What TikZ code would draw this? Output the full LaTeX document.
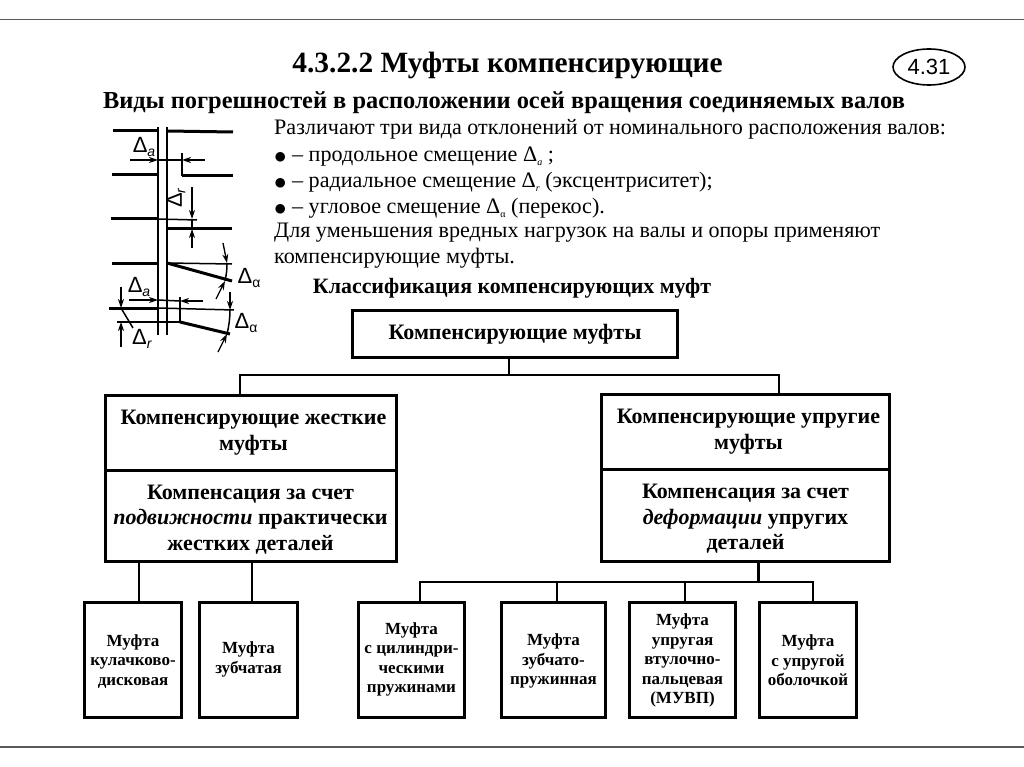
\documentclass[tikz,border=0pt]{standalone}
\usepackage{fontspec}
\setmainfont{Liberation Serif}
\newfontfamily\labelfont{Liberation Sans}
\usetikzlibrary{shapes.geometric,arrows.meta}

\newcommand{\tinysub}[1]{\raisebox{-0.3ex}{\fontsize{10}{10}\selectfont #1}}
\newcommand{\labelsub}[1]{\raisebox{-0.3ex}{\fontsize{14}{14}\selectfont #1}}
\newcommand{\topgap}[1]{\rule{0pt}{#1}}
\newcommand{\bigdot}{\raisebox{-1.5pt}{\fontsize{29}{29}\selectfont$\bullet$}}

\tikzset{
    headbox/.style={draw, line width=3pt, font=\bfseries\fontsize{22}{26}\selectfont, align=center, inner sep=0pt},
    bigbox/.style={draw, line width=3pt, font=\bfseries\fontsize{22}{25.5}\selectfont, align=center, inner sep=0pt},
    smallbox/.style={draw, line width=3pt, font=\bfseries\fontsize{17}{19.5}\selectfont, align=center, inner sep=0pt, minimum height=115pt},
    bodytext/.style={anchor=west, inner sep=0pt, font=\fontsize{22.1}{25}\selectfont},
    bulletline/.style={anchor=base west, inner sep=0pt, font=\fontsize{22.1}{25}\selectfont},
    conn/.style={line width=2.2pt},
    thickline/.style={line width=3pt},
    thinline/.style={line width=1.5pt},
    dimarrow/.style={line width=1.3pt, -{Stealth[length=9pt,width=6pt]}},
    dimlabel/.style={inner sep=0pt, font=\labelfont\fontsize{22}{22}\selectfont}
}

\begin{document}
\begin{tikzpicture}[x=1pt, y=-1pt]
    \useasboundingbox (0,0) rectangle (1024,767);

    % Frame lines
    \coordinate (topl) at (0,19.5);
    \coordinate (topr) at (1024,19.5);
    \coordinate (botl) at (0,747);
    \coordinate (botr) at (1024,747);
    \draw[line width=1.4pt, black!65] (topl) -- (topr);
    \draw[line width=1.4pt, black!65] (botl) -- (botr);

    % Titles
    \node[inner sep=0pt, font=\bfseries\fontsize{29.4}{32}\selectfont] (title) at (507.5,65) {4.3.2.2 Муфты компенсирующие};
    \node[ellipse, draw, line width=1.6pt, minimum width=72pt, minimum height=36pt, inner sep=0pt, font=\labelfont\fontsize{22}{22}\selectfont] (number) at (929,67) {4.31};
    \node[inner sep=0pt, font=\bfseries\fontsize{24.4}{26}\selectfont] (subtitle) at (504,103) {Виды погрешностей в расположении осей вращения соединяемых валов};

    % Text
    \node[bodytext] (line1) at (274,129) {Различают три вида отклонений от номинального расположения валов:};
    \node[bulletline] (line2) at (274,162) {\bigdot{} – продольное смещение Δ\tinysub{\textit{a}} ;};
    \node[bulletline] (line3) at (274,188) {\bigdot{} – радиальное смещение Δ\tinysub{\textit{r}} (эксцентриситет);};
    \node[bulletline] (line4) at (274,214) {\bigdot{} – угловое смещение Δ\tinysub{α} (перекос).};
    \node[bodytext] (line5) at (274,233) {Для уменьшения вредных нагрузок на валы и опоры применяют};
    \node[bodytext] (line6) at (274,258) {компенсирующие муфты.};
    \node[inner sep=0pt, font=\bfseries\fontsize{21.9}{24}\selectfont] (classtitle) at (512,288) {Классификация компенсирующих муфт};

    % Shafts
    \draw[thinline] (158,127) -- (158,335);
    \draw[thinline] (167,127) -- (167,335);
    \draw[thickline] (113,131) -- (158,131);
    \draw[thickline] (167,131) -- (233,132);
    \draw[thickline] (112,175) -- (158,175);
    \draw[thickline] (182,176) -- (233,176);
    \draw[thinline] (182,153) -- (182,176);
    \draw[dimarrow] (130,160) -- (158,160);
    \draw[dimarrow] (205,160) -- (182,160);
    \draw[thinline] (158,160) -- (182,160);
    \draw[thickline] (111,219) -- (158,219);
    \draw[thinline] (158,219) -- (197,220);
    \draw[thickline] (167,229) -- (232,229);
    \draw[dimarrow] (192,187) -- (192,219);
    \draw[dimarrow] (192,248) -- (192,229);
    \draw[thinline] (192,219) -- (192,229);
    \draw[thickline] (112,263) -- (158,263);
    \draw[thinline] (167,263) -- (232,264);
    \draw[thickline] (167,263) -- (232,281);
    \draw[thinline] (227,263) to[bend left=6] (225,281);
    \draw[dimarrow] (223,243) -- (227,263);
    \draw[dimarrow] (216,299) -- (225,281);
    \draw[thickline] (109,308) -- (158,308);
    \draw[thinline] (158,308) -- (234,310);
    \draw[thinline] (117,322) -- (180,322);
    \draw[thinline] (180,297) -- (180,322);
    \draw[thickline] (180,322) -- (230,334);
    \draw[dimarrow] (129,300) -- (158,300);
    \draw[dimarrow] (203,301) -- (180,301);
    \draw[thinline] (158,300) -- (180,301);
    \draw[dimarrow] (121,287) -- (121,308);
    \draw[dimarrow] (121,347) -- (121,322);
    \draw[thinline] (121,308) -- (133,328);
    \draw[thinline] (230,310) to[bend left=6] (227,334);
    \draw[dimarrow] (230,292) -- (230,310);
    \draw[dimarrow] (218,352) -- (227,334);

    % Shaft labels
    \node[dimlabel] (da1) at (144,147) {Δ\labelsub{\textit{a}}};
    \node[dimlabel, rotate=90] (dr1) at (176,198) {Δ\labelsub{\textit{r}}};
    \node[dimlabel] (dal1) at (249,278) {Δ\labelsub{α}};
    \node[dimlabel] (da2) at (139,287) {Δ\labelsub{\textit{a}}};
    \node[dimlabel] (dal2) at (246,323) {Δ\labelsub{α}};
    \node[dimlabel] (dr2) at (142,339) {Δ\labelsub{\textit{r}}};

    % Boxes
    \node[headbox, minimum width=325pt, minimum height=47pt] (root) at (515,334) {Компенсирующие муфты};
    \node[bigbox, minimum width=291pt, minimum height=75pt] (rigid) at (250.5,432.5) {\hspace*{6pt}Компенсирующие жесткие\\\hspace*{6pt}муфты};
    \node[bigbox, minimum width=291pt, minimum height=91pt] (rigidnote) at (250.5,515.5) {\topgap{22pt}Компенсация за счет\\\textit{подвижности} практически\\жестких деталей};
    \node[bigbox, minimum width=288pt, minimum height=75pt] (elastic) at (745.5,431.5) {\hspace*{6pt}Компенсирующие упругие\\\hspace*{6pt}муфты};
    \node[bigbox, minimum width=288pt, minimum height=92pt] (elasticnote) at (745.5,515) {\topgap{22pt}Компенсация за счет\\\textit{деформации} упругих\\деталей};
    \node[smallbox, minimum width=97pt] (cam) at (133,659.5) {\topgap{15.5pt}Муфта\\кулачково-\\дисковая};
    \node[smallbox, minimum width=98pt] (gear) at (248.5,659.5) {Муфта\\зубчатая};
    \node[smallbox, minimum width=106pt] (coil) at (411.5,659.5) {Муфта\\с цилиндри-\\ческими\\пружинами};
    \node[smallbox, minimum width=104pt] (spring) at (553.5,659.5) {\topgap{15.5pt}Муфта\\зубчато-\\пружинная};
    \node[smallbox, minimum width=106pt] (bush) at (682.5,659.5) {\topgap{14pt}Муфта\\упругая\\втулочно-\\пальцевая\\(МУВП)};
    \node[smallbox, minimum width=97pt] (shell) at (808,659.5) {\topgap{13.5pt}Муфта\\с упругой\\оболочкой};

    % Draw connections
    \coordinate (topbus) at (509,375);
    \coordinate (lowbus) at (758.5,582);
    \draw[conn] (root.south -| topbus) -- (topbus);
    \draw[conn] (rigid.north -| 240,0) |- (topbus) -| (elastic.north -| 779,0);
    \draw[conn] (rigidnote.south -| 139,0) -- (cam.north -| 139,0);
    \draw[conn] (rigidnote.south -| 252,0) -- (gear.north -| 252,0);
    \draw[conn] (elasticnote.south -| lowbus) -- (lowbus);
    \draw[conn] (coil.north -| 420,0) |- (lowbus) -| (shell.north -| 813,0);
    \draw[conn] (spring.north -| 557,0) -- (lowbus -| 557,0);
    \draw[conn] (bush.north -| 685,0) -- (lowbus -| 685,0);
\end{tikzpicture}
\end{document}
